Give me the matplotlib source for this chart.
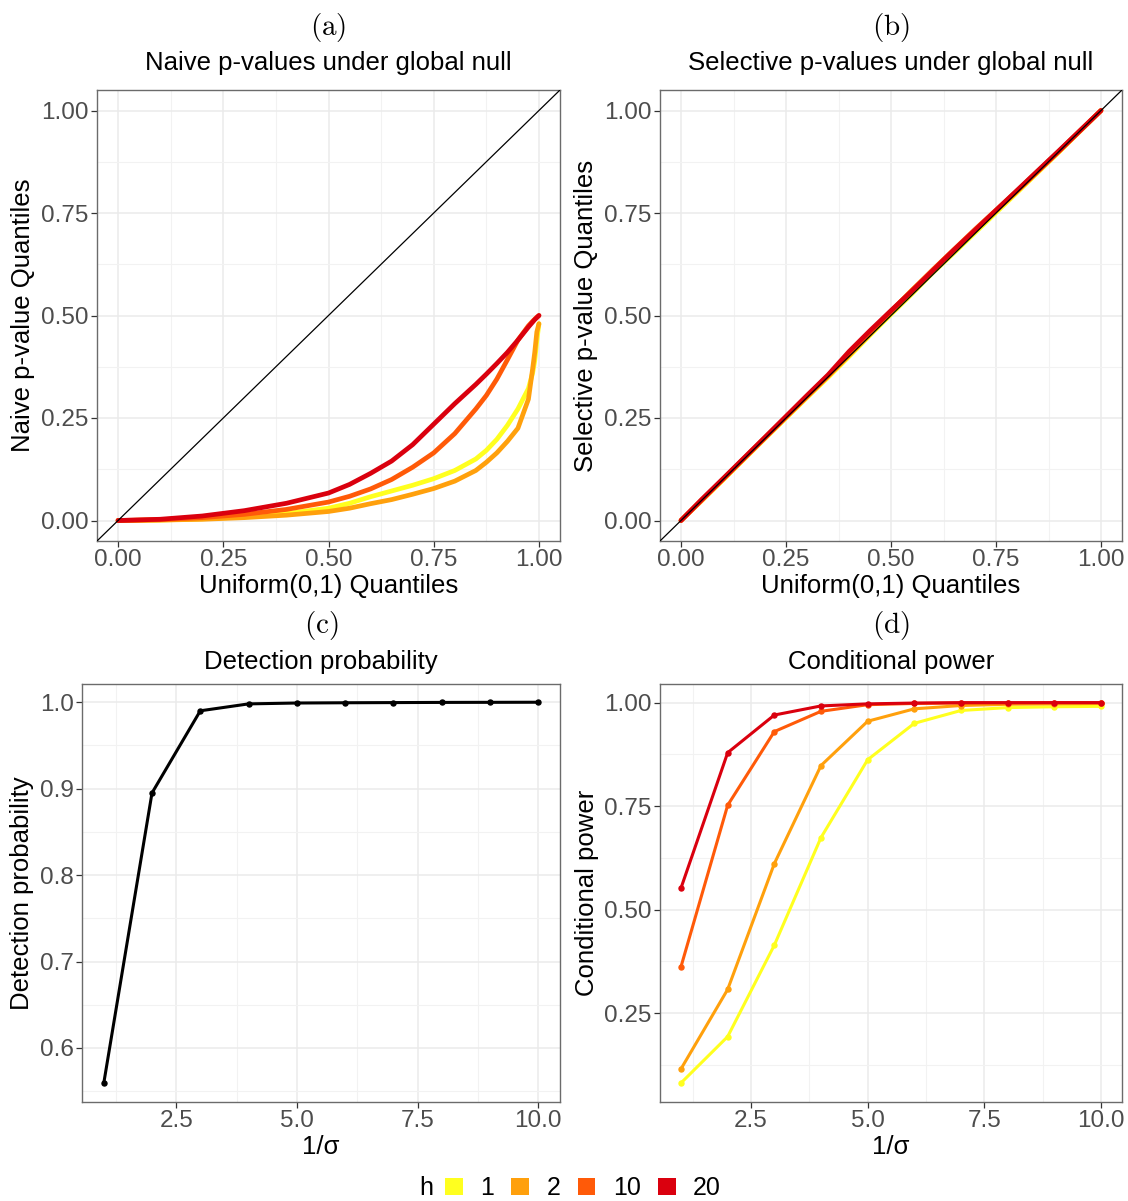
import matplotlib
matplotlib.use("Agg")
import matplotlib.pyplot as plt
from matplotlib.patches import Patch
from matplotlib.ticker import FixedLocator

plt.rcParams["font.family"] = ["Liberation Sans", "DejaVu Sans"]
plt.rcParams["mathtext.fontset"] = "cm"

# selection threshold levels and their colours
h_levels = ["1", "2", "10", "20"]
h_colors = ["#FFFF1F", "#FFA00C", "#FF5A08", "#DA000E"]

# (a) naive p-value quantiles against uniform quantiles
u_naive = [0, 0.1, 0.2, 0.3, 0.4, 0.5, 0.55, 0.6, 0.65, 0.7, 0.75, 0.8, 0.85, 0.875,
           0.9, 0.925, 0.95, 0.975, 0.985, 0.99, 0.995, 1.0]
naive_h1 = [0, 0.001, 0.004, 0.009, 0.017, 0.030, 0.042, 0.058, 0.072, 0.086, 0.102, 0.122,
            0.150, 0.171, 0.198, 0.232, 0.272, 0.322, 0.360, 0.390, 0.440, 0.480]
naive_h2 = [0, 0.001, 0.003, 0.007, 0.013, 0.022, 0.030, 0.041, 0.051, 0.064, 0.078, 0.096,
            0.122, 0.142, 0.165, 0.193, 0.225, 0.296, 0.370, 0.410, 0.460, 0.480]
naive_h10 = [0, 0.002, 0.007, 0.015, 0.027, 0.045, 0.059, 0.077, 0.100, 0.130, 0.165, 0.212,
             0.272, 0.305, 0.345, 0.392, 0.440, 0.475, 0.486, 0.491, 0.496, 0.500]
naive_h20 = [0, 0.003, 0.011, 0.024, 0.042, 0.067, 0.088, 0.115, 0.145, 0.185, 0.235, 0.285,
             0.332, 0.357, 0.383, 0.410, 0.440, 0.472, 0.484, 0.490, 0.495, 0.500]

# (b) selective p-value quantiles
u_sel = [0, 0.05, 0.1, 0.2, 0.3, 0.35, 0.4, 0.45, 0.5, 0.55, 0.6, 0.65, 0.7, 0.8, 0.9, 1.0]
sel_h1 = [0, 0.049, 0.099, 0.200, 0.300, 0.349, 0.400, 0.452, 0.503, 0.553, 0.605, 0.653,
          0.702, 0.800, 0.899, 1.0]
sel_h2 = [0, 0.051, 0.100, 0.202, 0.302, 0.352, 0.403, 0.455, 0.510, 0.562, 0.611, 0.660,
          0.707, 0.803, 0.900, 1.0]
sel_h10 = [0, 0.050, 0.101, 0.202, 0.303, 0.353, 0.405, 0.458, 0.510, 0.561, 0.612, 0.661,
           0.710, 0.804, 0.901, 1.0]
sel_h20 = [0, 0.052, 0.102, 0.203, 0.305, 0.355, 0.412, 0.463, 0.512, 0.560, 0.610, 0.660,
           0.708, 0.805, 0.902, 1.0]

# (c) detection probability and (d) conditional power vs 1/sigma
inv_sigma = [1, 2, 3, 4, 5, 6, 7, 8, 9, 10]
detect_prob = [0.559, 0.895, 0.990, 0.998, 0.999, 0.9993, 0.9995, 0.9997, 0.9998, 0.9999]
power_h1 = [0.081, 0.193, 0.414, 0.674, 0.862, 0.950, 0.981, 0.988, 0.990, 0.991]
power_h2 = [0.115, 0.307, 0.611, 0.848, 0.955, 0.985, 0.993, 0.996, 0.997, 0.998]
power_h10 = [0.362, 0.752, 0.930, 0.979, 0.995, 0.998, 0.999, 0.999, 1.0, 1.0]
power_h20 = [0.552, 0.879, 0.970, 0.992, 0.997, 0.999, 1.0, 1.0, 1.0, 1.0]

W, H = 1128, 1201
fig = plt.figure(figsize=(W / 100, H / 100), dpi=100)


def px_axes(l, t, r, b):
    return fig.add_axes([l / W, 1 - b / H, (r - l) / W, (b - t) / H])


def style(ax, xmajor, xminor, ymajor, yminor, xfmt, yfmt):
    ax.set_facecolor("white")
    for s in ax.spines.values():
        s.set_color("#6b6b6b")
        s.set_linewidth(1.0)
    ax.xaxis.set_major_locator(FixedLocator(xmajor))
    ax.xaxis.set_minor_locator(FixedLocator(xminor))
    ax.yaxis.set_major_locator(FixedLocator(ymajor))
    ax.yaxis.set_minor_locator(FixedLocator(yminor))
    ax.set_xticklabels([xfmt.format(v) for v in xmajor])
    ax.set_yticklabels([yfmt.format(v) for v in ymajor])
    ax.grid(True, which="major", color="#EBEBEB", lw=1.1, zorder=0)
    ax.grid(True, which="minor", color="#F2F2F2", lw=0.8, zorder=0)
    ax.set_axisbelow(True)
    ax.tick_params(which="major", length=4, width=0.9, color="#333333",
                   labelsize=17.5, labelcolor="#4D4D4D", pad=2)
    ax.tick_params(which="minor", length=0)


def heading(ax, letter, title, y_letter, y_title):
    pos = ax.get_position()
    xc = pos.x0 + pos.width / 2
    fig.text(xc, 1 - y_letter / H, r"$\mathrm{(%s)}$" % letter, ha="center", va="center", fontsize=21)
    fig.text(xc, 1 - y_title / H, title, ha="center", va="center", fontsize=18.5)


q_ticks = [0, 0.25, 0.5, 0.75, 1.0]
q_minor = [0.125, 0.375, 0.625, 0.875]

# (a)
ax_a = px_axes(97, 90, 560, 541)
for ys, c in zip([naive_h1, naive_h2, naive_h10, naive_h20], h_colors):
    ax_a.plot(u_naive, ys, color=c, lw=3.4, solid_capstyle="round", solid_joinstyle="round", zorder=2)
ax_a.axline((0, 0), (1, 1), color="black", lw=0.9, zorder=3)
ax_a.set_xlim(-0.05, 1.05)
ax_a.set_ylim(-0.05, 1.05)
style(ax_a, q_ticks, q_minor, q_ticks, q_minor, "{:.2f}", "{:.2f}")
ax_a.set_xlabel("Uniform(0,1) Quantiles", fontsize=18.5, labelpad=2)
ax_a.set_ylabel("Naive p-value Quantiles", fontsize=18.5, labelpad=4)
heading(ax_a, "a", "Naive p-values under global null", 28, 63)

# (b)
ax_b = px_axes(660, 90, 1122, 541)
for ys, c in zip([sel_h1, sel_h2, sel_h10, sel_h20], h_colors):
    ax_b.plot(u_sel, ys, color=c, lw=3.4, solid_capstyle="round", solid_joinstyle="round", zorder=2)
ax_b.axline((0, 0), (1, 1), color="black", lw=0.9, zorder=3)
ax_b.set_xlim(-0.05, 1.05)
ax_b.set_ylim(-0.05, 1.05)
style(ax_b, q_ticks, q_minor, q_ticks, q_minor, "{:.2f}", "{:.2f}")
ax_b.set_xlabel("Uniform(0,1) Quantiles", fontsize=18.5, labelpad=2)
ax_b.set_ylabel("Selective p-value Quantiles", fontsize=18.5, labelpad=4)
heading(ax_b, "b", "Selective p-values under global null", 28, 63)

x_ticks = [2.5, 5.0, 7.5, 10.0]
x_minor = [1.25, 3.75, 6.25, 8.75]

# (c)
ax_c = px_axes(82, 684, 560, 1102)
ax_c.plot(inv_sigma, detect_prob, color="black", lw=2.2, marker="o", ms=3.6, zorder=2)
ax_c.set_xlim(0.55, 10.45)
ax_c.set_ylim(0.5375, 1.021)
style(ax_c, x_ticks, x_minor, [0.6, 0.7, 0.8, 0.9, 1.0], [0.55, 0.65, 0.75, 0.85, 0.95],
      "{:.1f}", "{:.1f}")
ax_c.set_xlabel("1/σ", fontsize=18.5, labelpad=2)
ax_c.set_ylabel("Detection probability", fontsize=18.5, labelpad=4)
heading(ax_c, "c", "Detection probability", 625, 662)

# (d)
ax_d = px_axes(660, 684, 1122, 1102)
for ys, c in zip([power_h1, power_h2, power_h10, power_h20], h_colors):
    ax_d.plot(inv_sigma, ys, color=c, lw=2.2, marker="o", ms=3.6, zorder=2)
ax_d.set_xlim(0.55, 10.45)
ax_d.set_ylim(0.035, 1.045)
style(ax_d, x_ticks, x_minor, [0.25, 0.5, 0.75, 1.0], [0.125, 0.375, 0.625, 0.875],
      "{:.1f}", "{:.2f}")
ax_d.set_xlabel("1/σ", fontsize=18.5, labelpad=2)
ax_d.set_ylabel("Conditional power", fontsize=18.5, labelpad=4)
heading(ax_d, "d", "Conditional power", 625, 662)

# shared legend for h
handles = [Patch(facecolor=c, edgecolor="none") for c in h_colors]
leg = fig.legend(handles, h_levels, ncol=4, loc="center", bbox_to_anchor=(583 / W, 1 - 1188 / H),
                 frameon=False, fontsize=18, handlelength=0.7, handleheight=0.7,
                 handletextpad=0.7, columnspacing=0.7)
fig.text(426 / W, 1 - 1188 / H, "h", ha="center", va="center", fontsize=18)

fig.savefig("out.png", dpi=100)
